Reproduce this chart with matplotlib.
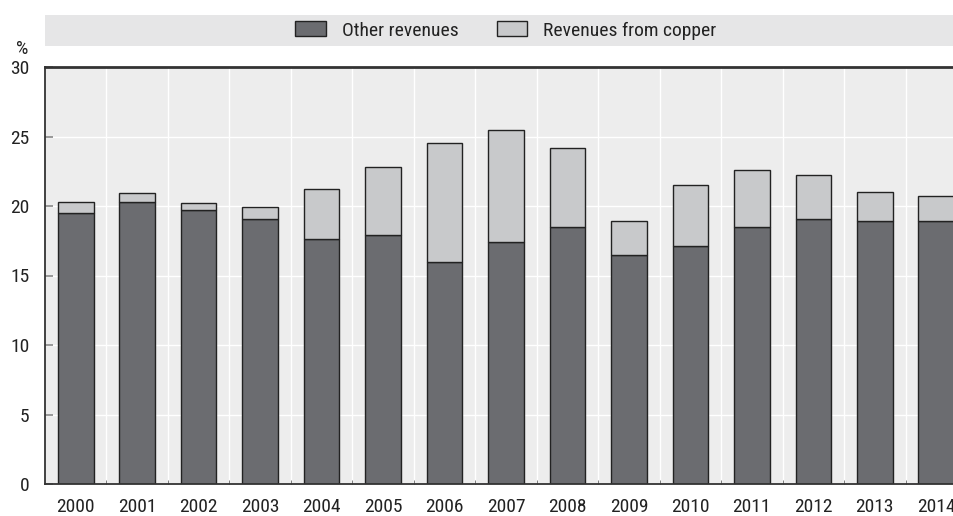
import numpy as np
import matplotlib
matplotlib.use('Agg')
import matplotlib.pyplot as plt
from matplotlib.patches import Rectangle
from matplotlib import font_manager

# narrow font like the original, if one is installed
names = {f.name for f in font_manager.fontManager.ttflist}
narrow = [n for n in ['Liberation Sans Narrow', 'Roboto Condensed', 'DejaVu Sans Condensed',
                      'Open Sans Condensed', 'Noto Sans Condensed'] if n in names]
plt.rcParams['font.family'] = narrow[:1] + ['DejaVu Sans']

years = ['2000', '2001', '2002', '2003', '2004', '2005', '2006', '2007',
         '2008', '2009', '2010', '2011', '2012', '2013', '2014']
other = [19.5, 20.3, 19.7, 19.1, 17.6, 17.9, 16.0, 17.4,
         18.5, 16.5, 17.1, 18.5, 19.1, 18.9, 18.9]
total = [20.3, 20.9, 20.2, 19.9, 21.2, 22.8, 24.5, 25.5,
         24.2, 18.9, 21.5, 22.6, 22.2, 21.0, 20.7]
copper = [t - o for t, o in zip(total, other)]

dark = '#6b6c70'
light = '#c8c9cb'
edge = '#222222'
fs = 14

fig = plt.figure(figsize=(9.54, 5.16), dpi=100)
ax = fig.add_axes([45/954, 32/516, 922/954, 417/516])
ax.set_facecolor('#ededed')

x = np.arange(len(years))
ax.bar(x, other, width=0.58, color=dark, edgecolor=edge, linewidth=1.0,
       label='Other revenues')
ax.bar(x, copper, width=0.58, bottom=other, color=light, edgecolor=edge,
       linewidth=1.0, label='Revenues from copper')

ax.set_xlim(-0.5, len(years) - 0.5)
ax.set_ylim(0, 30)
ax.set_yticks(range(0, 31, 5))
ax.set_xticks(x)
ax.set_xticklabels(years)
ax.set_xticks(x[:-1] + 0.5, minor=True)
ax.set_axisbelow(True)
ax.grid(axis='y', which='major', color='white', linewidth=1.0)
ax.grid(axis='x', which='minor', color='white', linewidth=1.0)
ax.tick_params(axis='x', which='major', length=0, pad=10, labelsize=fs, labelcolor='#222222')
ax.tick_params(axis='x', which='minor', direction='in', length=3, color='#666666')
ax.tick_params(axis='y', direction='in', length=6, width=1.2, color='#888888',
               pad=11, labelsize=fs, labelcolor='#222222')

for s in ['left', 'bottom', 'top']:
    ax.spines[s].set_color('#333333')
    ax.spines[s].set_linewidth(1.3)
ax.spines['top'].set_linewidth(2)
ax.spines['right'].set_visible(False)

fig.text(22/954, 1 - 49/516, '%', ha='center', va='center', fontsize=fs, color='#222222')

fig.patches.append(Rectangle((45/954, 1 - 45.7/516), 1 - 45/954, 30.7/516,
                             transform=fig.transFigure, facecolor='#e6e6e7',
                             edgecolor='none', zorder=0))
fig.legend(loc='center', bbox_to_anchor=(506/954, 1 - 30.5/516), ncol=2,
           frameon=False, fontsize=fs, handlelength=1.55, handleheight=0.78,
           handletextpad=0.82, columnspacing=2.0, labelcolor='#222222')

fig.savefig('out.png', dpi=100)
